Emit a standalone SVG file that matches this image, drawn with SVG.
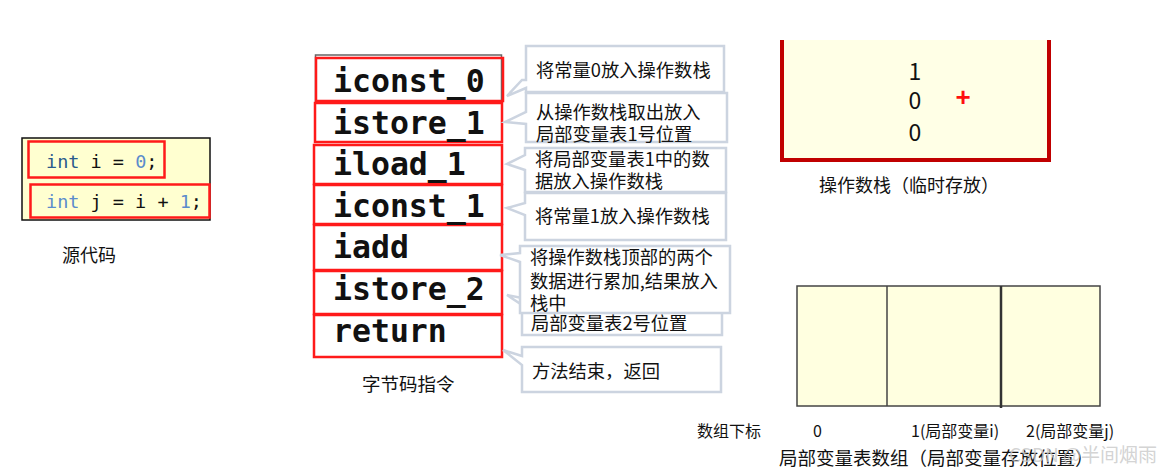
<svg xmlns="http://www.w3.org/2000/svg" width="1172" height="474" viewBox="0 0 1172 474">
<style>
.cn{font-family:"Noto Sans CJK SC","Noto Sans",sans-serif;fill:#111}
.code{font-family:"DejaVu Sans Mono","Liberation Mono",monospace;font-size:18.5px;fill:#111}
.bc{font-family:"DejaVu Sans Mono","Liberation Mono",monospace;font-size:31.5px;font-weight:bold;fill:#111}
.red{fill:none;stroke:#ff1a1a;stroke-width:2.5}
.call{fill:#fff;stroke:#ccd4e0;stroke-width:2.5;stroke-linejoin:miter}
.ct{font-family:"Noto Sans CJK SC","Noto Sans",sans-serif;fill:#111;font-size:18.3px}
.kw1{fill:#2a5a8c}
.kw2{fill:#5b8ccc}
.num{fill:#5b8ccc}
</style>
<rect width="1172" height="474" fill="#fff"/>

<g id="source">
<rect x="22" y="138" width="188" height="82" fill="#ffffd0" stroke="#111" stroke-width="1.5"/>
<rect class="red" x="28.5" y="141.5" width="136" height="36"/>
<rect class="red" x="30.5" y="184.5" width="179" height="33"/>
<text class="code" x="46" y="168"><tspan class="kw1">int</tspan> i = <tspan class="num">0</tspan>;</text>
<text class="code" x="46" y="208"><tspan class="kw2">int</tspan> j = i + <tspan class="num">1</tspan>;</text>
<text class="cn" x="62" y="262" font-size="18">源代码</text>
</g>

<g id="bytecode">
<rect x="315.5" y="55" width="186" height="46" fill="none" stroke="#666" stroke-width="1.5"/>
<rect class="red" x="316" y="58" width="187" height="43" fill="#fff"/>
<rect class="red" x="315" y="103" width="187" height="39"/>
<rect class="red" x="314" y="145" width="188" height="39"/>
<rect class="red" x="314" y="185" width="188" height="39"/>
<rect class="red" x="314" y="225" width="188" height="45"/>
<rect class="red" x="314" y="271" width="188" height="43"/>
<rect class="red" x="314" y="315" width="188" height="42"/>
<text class="bc" x="333" y="92">iconst_0</text>
<text class="bc" x="333" y="134">istore_1</text>
<text class="bc" x="333" y="175">iload_1</text>
<text class="bc" x="333" y="217">iconst_1</text>
<text class="bc" x="333" y="258">iadd</text>
<text class="bc" x="333" y="300">istore_2</text>
<text class="bc" x="333" y="342">return</text>
<text class="cn" x="362" y="391" font-size="18.5">字节码指令</text>
</g>

<g id="connectors">
<g id="c1">
<path class="call" d="M526,46 H724 V92 H526 V88 L507,96 L522,80 L526,80 Z"/>
<text class="ct" x="536" y="77">将常量0放入操作数栈</text>
</g>
<g id="c2">
<path class="call" d="M526,93 H727 V142 H526 V124 L505,122 L526,112 Z"/>
<text class="ct" x="536" y="119">从操作数栈取出放入</text>
<text class="ct" x="536" y="141">局部变量表1号位置</text>
</g>
<g id="c3">
<path class="call" d="M525,148 H726 V192 H525 V170 L507,164 L525,155 Z"/>
<text class="ct" x="535" y="166">将局部变量表1中的数</text>
<text class="ct" x="535" y="188">据放入操作数栈</text>
</g>
<g id="c4">
<path class="call" d="M525,193 H726 V240 H525 V215 L507,208 L525,203 Z"/>
<text class="ct" x="535" y="223">将常量1放入操作数栈</text>
</g>
<g id="c6">
<path class="call" d="M522,287 H722 V335 H522 V305 L507,295 L522,298 Z"/>
<text class="ct" x="531" y="330">局部变量表2号位置</text>
</g>
<g id="c5">
<path class="call" d="M520,246 H730 V313 H520 V262 L500,255 L520,253 Z"/>
<text class="ct" x="530" y="264">将操作数栈顶部的两个</text>
<text class="ct" x="530" y="288">数据进行累加,结果放入</text>
<text class="ct" x="530" y="310">栈中</text>
</g>
<g id="c7">
<path class="call" d="M522,347 H721 V392 H522 V365 L503,350 L522,356 Z"/>
<text class="ct" x="532" y="378">方法结束，返回</text>
</g>
</g>

<g id="operand-stack">
<rect x="782" y="40" width="267" height="120" fill="#ffffe6"/>
<path d="M782,40 V160 H1049 V40" fill="none" stroke="#c00000" stroke-width="4"/>
<text class="cn" x="915" y="80" font-size="23" text-anchor="middle">1</text>
<text class="cn" x="915" y="109" font-size="23" text-anchor="middle">0</text>
<text class="cn" x="915" y="141" font-size="23" text-anchor="middle">0</text>
<text x="963" y="106" font-size="26" font-weight="bold" fill="#ff1010" font-family="Liberation Sans,sans-serif" text-anchor="middle">+</text>
<text class="cn" x="819" y="192" font-size="18">操作数栈（临时存放）</text>
</g>

<g id="local-vars">
<rect x="797" y="286" width="303" height="120" fill="#ffffe0" stroke="#444" stroke-width="1.5"/>
<line x1="887" y1="286" x2="887" y2="406" stroke="#444" stroke-width="1.5"/>
<line x1="1001" y1="286" x2="1001" y2="408" stroke="#333" stroke-width="2.5"/>
<text class="cn" x="697" y="437" font-size="16">数组下标</text>
<text class="cn" x="813" y="437" font-size="16">0</text>
<text class="cn" x="911" y="437" font-size="16">1(局部变量i)</text>
<text class="cn" x="1026" y="437" font-size="16">2(局部变量j)</text>
<text class="cn" x="779" y="465" font-size="18.5">局部变量表数组（局部变量存放位置）</text>
</g>

<text x="1157" y="462" font-size="19" text-anchor="end" fill="#c8c8c8" fill-opacity="0.8" font-family="Noto Sans CJK SC,sans-serif">CSDN @半间烟雨</text>
</svg>
